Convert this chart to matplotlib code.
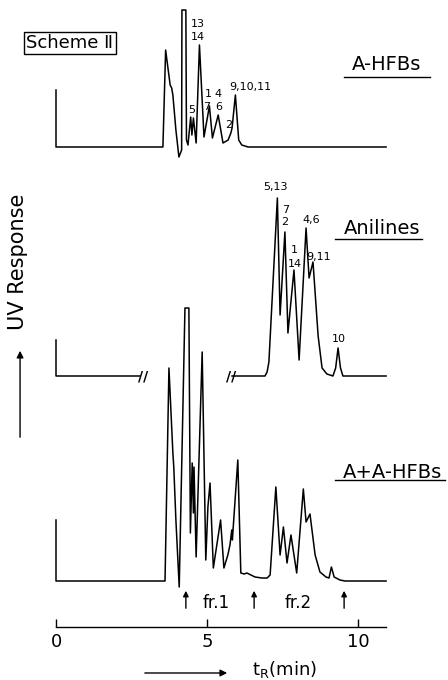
import numpy as np
import matplotlib
matplotlib.use("Agg")
import matplotlib.pyplot as plt

plt.rcParams["font.family"] = ["DejaVu Sans"]

# retention time (min) and response for each trace
hfb_t = [0, 0, 3.54, 3.63, 3.78, 3.83, 3.87, 3.97, 4.07, 4.16, 4.17, 4.30, 4.32, 4.37, 4.46, 4.50,
         4.55, 4.64, 4.75, 4.90, 5.08, 5.18, 5.37, 5.53, 5.70, 5.79, 5.83, 5.94, 6.05, 6.15, 6.36, 10.93]
hfb_r = [57, 0, 0, 97, 62, 59, 52, 17, -10, -3, 137, 137, 7, 2, 30, 12,
         29, 4, 102, 10, 41, 9, 32, 4, 7, 14, 19, 52, 7, 2, 0, 0]

anil_t = [0, 0, 2.78, np.nan, 5.83, 6.92, 6.99, 7.05, 7.33, 7.42, 7.58, 7.68, 7.88, 8.05, 8.28,
          8.38, 8.51, 8.68, 8.81, 8.97, 9.17, 9.26, 9.34, 9.42, 9.50, 10.93]
anil_r = [36, 0, 0, np.nan, 0, 0, 4, 14, 178, 61, 144, 43, 106, 16, 148,
          98, 114, 40, 8, 2, 0, 8, 28, 8, 0, 0]

mix_t = [0, 0, 3.61, 3.74, 3.87, 3.90, 3.97, 4.08, 4.27, 4.40, 4.45, 4.51, 4.55, 4.57, 4.64,
         4.84, 4.96, 5.03, 5.10, 5.21, 5.45, 5.56, 5.69, 5.76, 5.82, 5.84, 6.02, 6.12, 6.23,
         6.32, 6.59, 6.82, 6.99, 7.09, 7.28, 7.42, 7.53, 7.65, 7.78, 7.97, 8.19, 8.28, 8.41,
         8.58, 8.74, 8.94, 9.04, 9.12, 9.21, 9.40, 9.57, 10.93]
mix_r = [61, 0, 0, 213, 128, 114, 61, -6, 273, 273, 48, 118, 68, 114, 24,
         229, 21, 74, 98, 13, 61, 13, 26, 36, 51, 41, 121, 8, 7,
         8, 4, 3, 3, 6, 94, 26, 54, 18, 46, 8, 92, 59, 67,
         26, 9, 4, 3, 14, 4, 1, 0, 0]

# peak labels: (text, time, response above baseline)
hfb_labels = [("13", 4.71, 123), ("14", 4.71, 110), ("5", 4.50, 37), ("1", 5.03, 53), ("7", 4.99, 40),
              ("4", 5.38, 53), ("6", 5.39, 40), ("2", 5.71, 22), ("9,10,11", 6.42, 60)]
anil_labels = [("5,13", 7.25, 189), ("7", 7.62, 166), ("2", 7.58, 154), ("1", 7.88, 126),
               ("14", 7.91, 112), ("4,6", 8.44, 156), ("9,11", 8.71, 119), ("10", 9.37, 37)]
fractions = [4.30, 6.56, 9.54]
fraction_names = [("fr.1", 5.30), ("fr.2", 8.01)]
ticks = [0, 5, 10]

# vertical offset of each trace
BASE_HFB = 533
BASE_ANIL = 304
BASE_MIX = 99
AXIS_Y = 53

fig = plt.figure(figsize=(4.48, 6.8), dpi=100)
ax = fig.add_axes([0, 0, 1, 1])
ax.set_xlim(-56 / 30.2, (448 - 56) / 30.2)
ax.set_ylim(0, 680)
ax.axis("off")

lw = 1.1
ax.plot(hfb_t, np.array(hfb_r) + BASE_HFB, color="black", lw=lw)
ax.plot(anil_t, np.array(anil_r) + BASE_ANIL, color="black", lw=lw)
ax.plot(mix_t, np.array(mix_r) + BASE_MIX, color="black", lw=lw)

for txt, t, r in hfb_labels:
    ax.text(t, BASE_HFB + r, txt, fontsize=8, ha="center", va="center")
for txt, t, r in anil_labels:
    ax.text(t, BASE_ANIL + r, txt, fontsize=8, ha="center", va="center")

# axis break marks on the anilines trace
for t in [2.88, 5.79]:
    ax.text(t, BASE_ANIL, "//", fontsize=10, fontweight="bold", ha="center", va="center")

# trace names, underlined
names = [("A-HFBs", 10.96, 615, 9.54, 12.38, 603),
         ("Anilines", 10.79, 451, 9.24, 12.12, 441),
         ("A+A-HFBs", 11.13, 207, 9.24, 12.88, 200)]
for txt, t, y, u0, u1, uy in names:
    ax.text(t, y, txt, fontsize=14, ha="center", va="center")
    ax.plot([u0, u1], [uy, uy], color="black", lw=1.0)

ax.text(0.46, 637, "Scheme \u2161", fontsize=13, ha="center", va="center",
        bbox=dict(boxstyle="square,pad=0.12", fc="white", ec="black", lw=1.0))

# fraction arrows
for t in fractions:
    ax.annotate("", xy=(t, 92), xytext=(t, 69),
                arrowprops=dict(arrowstyle="-|>", color="black", lw=1.0, mutation_scale=8))
for txt, t in fraction_names:
    ax.text(t, 77, txt, fontsize=12, ha="center", va="center")

# time axis
ax.plot([0, 10.93], [AXIS_Y, AXIS_Y], color="black", lw=1.0)
ax.vlines(ticks, AXIS_Y, AXIS_Y + 8, color="black", lw=1.0)
for t in ticks:
    ax.text(t, 38, str(t), fontsize=13, ha="center", va="center")

ax.annotate("", xy=(5.76, 7), xytext=(2.85, 7),
            arrowprops=dict(arrowstyle="-|>", color="black", lw=1.0, mutation_scale=10))
ax.text(7.55, 10, r"t$_\mathrm{R}$(min)", fontsize=13, ha="center", va="center")

ax.text(-1.26, 418, "UV Response", fontsize=15, rotation=90, ha="center", va="center")
ax.annotate("", xy=(-1.19, 332), xytext=(-1.19, 240),
            arrowprops=dict(arrowstyle="-|>", color="black", lw=1.0, mutation_scale=10))

fig.savefig("out.png", dpi=100)
